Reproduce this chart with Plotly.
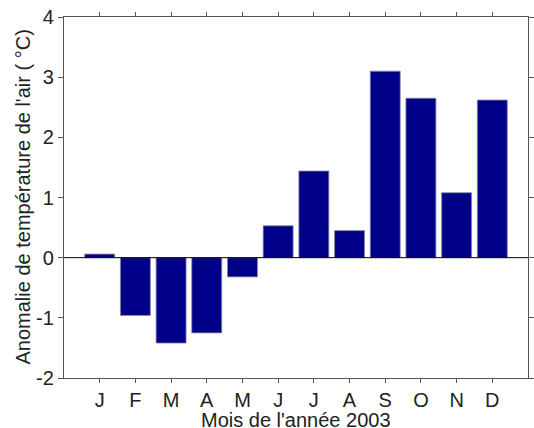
import plotly.graph_objects as go

months = ["J", "F", "M", "A", "M", "J", "J", "A", "S", "O", "N", "D"]
anomalies = [0.06, -0.96, -1.42, -1.25, -0.32, 0.53, 1.44, 0.45, 3.10, 2.65, 1.08, 2.62]
positions = list(range(len(months)))
y_ticks = [-2, -1, 0, 1, 2, 3, 4]
y_tick_text = ["-2", "-1", "0", "1", "2", "3", "4"]

fig = go.Figure()
fig.add_trace(go.Bar(
    x=positions, y=anomalies, width=0.84,
    marker=dict(color="#000088", line=dict(color="#8a8aa8", width=0.8)),
))
fig.add_hline(y=0, line=dict(color="black", width=1))

axis_font = dict(family="Liberation Sans, Arial, sans-serif", size=20, color="#222")
fig.update_layout(
    width=534, height=428,
    margin=dict(l=64, r=6, t=17, b=50, autoexpand=False),
    plot_bgcolor="white", paper_bgcolor="white",
    showlegend=False,
    font=axis_font,
    xaxis=dict(
        range=[-1, 12], tickmode="array", tickvals=positions, ticktext=months,
        showline=True, linecolor="#555", linewidth=1.2, mirror="ticks",
        ticks="outside", ticklen=4, tickcolor="#555", showgrid=False, zeroline=False,
        tickfont=axis_font, automargin=False,
    ),
    yaxis=dict(
        range=[-2, 4], tickmode="array", tickvals=y_ticks, ticktext=y_tick_text,
        showline=True, linecolor="#555", linewidth=1.2, mirror="ticks",
        ticks="outside", ticklen=5, tickcolor="#555", showgrid=False, zeroline=False,
        tickfont=axis_font, automargin=False,
    ),
    annotations=[
        dict(text="Mois de l'année 2003", xref="paper", yref="paper",
             x=0.5, y=-40/361, yanchor="middle", xanchor="center",
             showarrow=False, font=axis_font, yshift=-2, borderpad=0),
        dict(text="Anomalie de température de l'air ( °C)", xref="paper", yref="paper",
             x=-42/464, y=0.5, xanchor="center", yanchor="middle", textangle=-90,
             showarrow=False, font=axis_font),
    ],
)
fig.write_html("out.html", config={"displayModeBar": False},
               post_script="document.body.style.margin='0';")
